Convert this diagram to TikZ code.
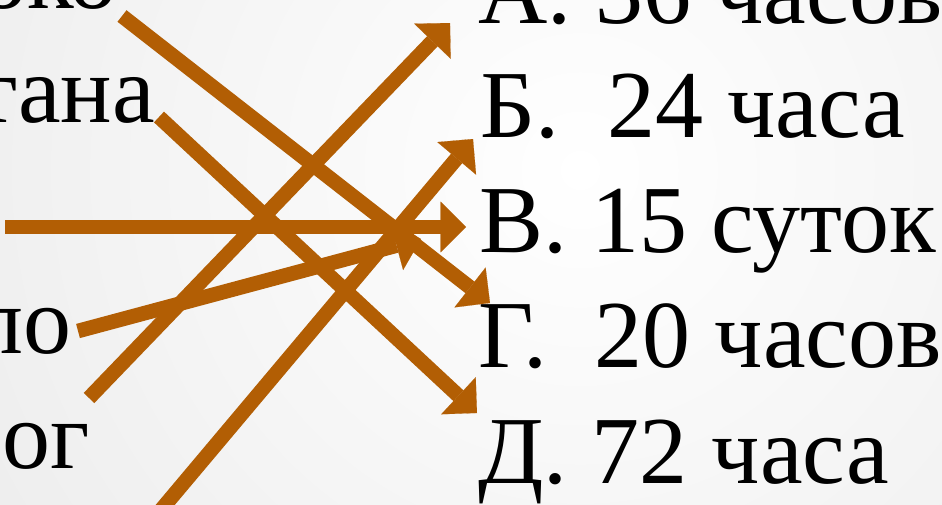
\documentclass[tikz,border=0pt]{standalone}
\usepackage{fontspec}
\setmainfont{Liberation Serif}
\usetikzlibrary{arrows.meta}
\definecolor{arrowbrown}{RGB}{178,94,4}
\tikzset{
  lbl/.style={inner sep=0pt, font=\fontsize{72}{80}\selectfont, text=black},
  conn/.style={draw=arrowbrown, line width=11pt,
    -{Triangle[length=19pt,width=38pt,line width=0.1pt,fill=arrowbrown]}},
}
\begin{document}
\begin{tikzpicture}[x=0.75pt,y=-0.75pt]
\useasboundingbox (0,0) rectangle (942,504);
\clip (0,0) rectangle (942,504);
\shade[inner color=white, outer color=black!14] (580,170) circle (1400);
% right column
\node[lbl, anchor=base west] (a) at (478,23) {А. 36 часов};
\node[lbl, anchor=base west] (b) at (480,137) {Б.\ \ 24 часа};
\node[lbl, anchor=base west] (v) at (479,252) {В. 15 суток};
\node[lbl, anchor=base west] (g) at (478,367) {Г.\ \ 20 часов};
\node[lbl, anchor=base west] (d) at (478,483) {Д. 72 часа};
% left column (cut)
\node[lbl, anchor=base east] (l1) at (118,8) {око};
\node[lbl, anchor=base east] (l2) at (155,122) {тана};
\node[lbl, anchor=base east] (l4) at (72,353) {ло};
\node[lbl, anchor=base east] (l5) at (90,468) {ог};
% connector end points
\coordinate (s1) at (122,16);
\coordinate (t1) at (490,303);
\coordinate (s2) at (159,117);
\coordinate (t2) at (477,413);
\coordinate (s3) at (5,227);
\coordinate (t3) at (466,227);
\coordinate (s4) at (78,331);
\coordinate (t4) at (421,239);
\coordinate (s5) at (89,398);
\coordinate (t5) at (450,23);
\coordinate (s6) at (150,523);
\coordinate (t6) at (473,139);
\draw[conn] (s1) -- (t1);
\draw[conn] (s2) -- (t2);
\draw[conn] (s3) -- (t3);
\draw[conn] (s4) -- (t4);
\draw[conn] (s5) -- (t5);
\draw[conn] (s6) -- (t6);
\end{tikzpicture}
\end{document}
